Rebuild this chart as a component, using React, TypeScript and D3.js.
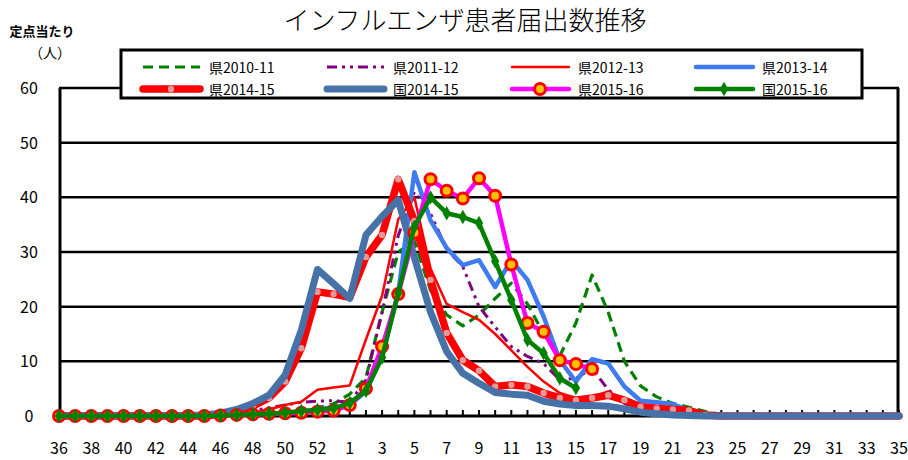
import React from "react";
import * as d3 from "d3";

// weeks 36..53, 1..35
const weeks = [...d3.range(36, 54), ...d3.range(1, 36)];
const yTicks = [0, 10, 20, 30, 40, 50, 60];

const ken1011 = [
  0, 0, 0, 0, 0, 0, 0, 0, 0, 0, 0.1, 0.1, 0.2, 0.3, 0.4, 0.5, 1.5, 2.2, 4.0, 7.0,
  19.0, 30.0, 32.0, 23.0, 18.5, 16.5, 18.5, 21.5, 24.3, 20.5, 15.0, 11.0, 17.0,
  25.8, 19.0, 10.0, 5.5, 3.5, 2.3, 1.6, 0.8, 0.3, 0.1, 0.1, 0, 0, 0, 0, 0, 0, 0, 0, 0,
];
const ken1112 = [
  0, 0, 0, 0, 0, 0, 0, 0, 0, 0, 0.3, 0.6, 1.0, 1.5, 2.0, 2.5, 2.7, 2.8, 2.5, 6.6,
  19.0, 33.0, 41.0, 37.0, 30.5, 27.3, 20.0, 16.3, 12.7, 10.9, 9.6, 6.6, 6.9, 8.7,
  4.8, 2.3, 1.0, 0.5, 0.2, 0.1, 0, 0, 0, 0, 0, 0, 0, 0, 0, 0, 0, 0, 0,
];
const ken1213 = [
  0, 0, 0, 0, 0, 0, 0, 0, 0, 0, 0.1, 0.3, 0.6, 1.2, 2.0, 2.6, 4.8, 5.2, 5.6, 14.0,
  22.0, 36.0, 40.0, 27.0, 20.5, 19.0, 17.6, 15.0, 12.0, 9.0, 6.3, 4.2, 3.3, 3.5,
  4.5, 2.8, 1.6, 1.0, 0.5, 0.2, 0, 0, 0, 0, 0, 0, 0, 0, 0, 0, 0, 0, 0,
];
const ken1314 = [
  0.1, 0.1, 0.1, 0.1, 0.1, 0.1, 0.1, 0.1, 0.1, 0.1, 0.2, 0.2, 0.3, 0.4, 0.5, 0.8,
  1.2, 1.6, 2.0, 4.5, 11.0, 22.5, 44.6, 35.8, 30.7, 27.6, 28.5, 23.6, 28.5, 24.9,
  18.2, 10.2, 6.3, 10.4, 9.6, 5.4, 2.8, 2.5, 2.2, 1.0, 0.2, 0.1, 0, 0, 0, 0, 0, 0,
  0, 0, 0, 0, 0,
];
const ken1415 = [
  0, 0, 0, 0, 0, 0, 0, 0, 0, 0, 0.3, 0.8, 1.8, 3.3, 6.3, 12.4, 22.7, 22.3, 21.7,
  29.1, 33.1, 43.3, 35.7, 24.9, 15.2, 10.2, 8.3, 5.4, 5.7, 5.4, 4.2, 3.3, 2.9, 3.3,
  3.8, 2.9, 1.7, 1.4, 1.2, 1.0, 0.2, 0, 0, 0, 0, 0, 0, 0, 0, 0, 0, 0, 0,
];
const kuni1415 = [
  0.1, 0.1, 0.1, 0.1, 0.1, 0.1, 0.1, 0.1, 0.1, 0.2, 0.5, 1.2, 2.3, 3.8, 7.5, 15.7,
  26.8, 24.2, 21.5, 33.1, 36.5, 39.5, 29.0, 19.0, 11.8, 7.8, 6.0, 4.3, 4.0, 3.8,
  2.7, 2.2, 1.9, 1.9, 1.8, 1.3, 0.7, 0.4, 0.2, 0.1, 0, 0, 0, 0, 0, 0, 0, 0, 0, 0,
  0, 0, 0,
];
const ken1516 = [
  0, 0, 0, 0, 0, 0, 0, 0, 0, 0, 0.1, 0.2, 0.3, 0.4, 0.5, 0.6, 0.8, 1.0, 2.0, 5.0,
  12.7, 22.3, 33.5, 43.3, 41.2, 39.8, 43.5, 40.3, 27.7, 17.0, 15.4, 10.2, 9.5, 8.6,
];
const kuni1516 = [
  0, 0, 0, 0, 0, 0, 0, 0, 0, 0, 0.1, 0.2, 0.3, 0.4, 0.6, 0.9, 1.1, 1.4, 2.4, 4.6,
  10.7, 22.5, 34.6, 40.0, 37.1, 36.4, 35.3, 28.3, 21.2, 13.9, 11.5, 6.9, 5.1,
];

type Marker = "none" | "dot" | "ring" | "diamond";
interface Series {
  name: string;
  values: number[];
  color: string;
  width: number;
  dash?: string;
  marker: Marker;
}

const series: Series[] = [
  { name: "県2010-11", values: ken1011, color: "#008000", width: 3.2, dash: "10,6", marker: "none" },
  { name: "県2011-12", values: ken1112, color: "#800080", width: 3, dash: "10,5,3,5,3,5", marker: "none" },
  { name: "県2012-13", values: ken1213, color: "#ff0000", width: 2.5, marker: "none" },
  { name: "県2013-14", values: ken1314, color: "#3f7af0", width: 4.5, marker: "none" },
  { name: "県2014-15", values: ken1415, color: "#ff0000", width: 7.5, marker: "dot" },
  { name: "国2014-15", values: kuni1415, color: "#4672a8", width: 7, marker: "none" },
  { name: "県2015-16", values: ken1516, color: "#ff00ff", width: 4.5, marker: "ring" },
  { name: "国2015-16", values: kuni1516, color: "#008000", width: 4.5, marker: "diamond" },
];

const FONT = "'Noto Sans CJK JP', sans-serif";

const MarkerShape = (props: { type: Marker; x: number; y: number }) => {
  const { type, x, y } = props;
  if (type === "dot") {
    return <circle cx={x} cy={y} r={3.2} fill="#e09a9a" />;
  }
  if (type === "ring") {
    return <circle cx={x} cy={y} r={5.5} fill="#ffc000" stroke="#ff0000" strokeWidth={3} />;
  }
  if (type === "diamond") {
    const d = d3.symbol(d3.symbolDiamond, 60)();
    return <path d={d || ""} transform={`translate(${x},${y})`} fill="#008000" />;
  }
  return null;
};

export default function App() {
  const width = 908;
  const height = 460;

  const x = d3
    .scalePoint<string>()
    .domain(weeks.map(String))
    .range([59, 899]);
  const y = d3.scaleLinear().domain([0, 60]).range([416, 88]);

  const line = d3
    .line<number>()
    .x((d, i) => x(String(weeks[i])) as number)
    .y((d) => y(d));

  const legendCols = [143, 327, 512, 696];
  const legendRows = [67, 89];

  return (
    <svg
      width={width}
      height={height}
      style={{ position: "absolute", left: 0, top: 0, background: "#fff" }}
      fontFamily={FONT}
    >
      <rect width={width} height={height} fill="#fff" />
      {/* title */}
      <text x={465} y={30} textAnchor="middle" fontSize={26} fontWeight={300} fill="#000">
        インフルエンザ患者届出数推移
      </text>
      <text x={42} y={36} textAnchor="middle" fontSize={13} fontWeight="bold" fill="#000">
        定点当たり
      </text>
      <text x={50} y={58} textAnchor="middle" fontSize={14} fill="#000">
        （人）
      </text>

      {/* grid */}
      {yTicks.map((t) => (
        <g key={t}>
          <line x1={59} x2={899} y1={y(t)} y2={y(t)} stroke="#000" strokeWidth={t === 0 ? 3 : 2.5} />
          <text x={29} y={y(t) + 6} textAnchor="middle" fontSize={16} fill="#000">
            {t}
          </text>
        </g>
      ))}
      <line x1={60} x2={60} y1={y(60)} y2={y(0)} stroke="#000" strokeWidth={3} />
      <line x1={898} x2={898} y1={y(60)} y2={y(0)} stroke="#000" strokeWidth={3} />

      {/* x ticks */}
      {weeks.map((w, i) => (
        <g key={i}>
          <line
            x1={x(String(w))}
            x2={x(String(w))}
            y1={y(0)}
            y2={y(0) - 6}
            stroke="#000"
            strokeWidth={2}
          />
          {i % 2 === 0 && (
            <text x={x(String(w))} y={454} textAnchor="middle" fontSize={16} fill="#000">
              {w}
            </text>
          )}
        </g>
      ))}

      {/* series */}
      {series.map((s) => (
        <g key={s.name}>
          <path
            d={line(s.values) || ""}
            fill="none"
            stroke={s.color}
            strokeWidth={s.width}
            strokeDasharray={s.dash}
            strokeLinejoin="round"
            strokeLinecap={s.dash ? "butt" : "round"}
          />
          {s.marker !== "none" &&
            s.values.map((v, i) => (
              <MarkerShape key={i} type={s.marker} x={x(String(weeks[i])) as number} y={y(v)} />
            ))}
        </g>
      ))}

      {/* legend */}
      <rect x={121} y={50} width={741} height={48} fill="#fff" stroke="#000" strokeWidth={3} />
      {series.map((s, k) => {
        const lx = legendCols[k % 4];
        const ly = legendRows[Math.floor(k / 4)];
        return (
          <g key={s.name}>
            <line
              x1={lx}
              x2={lx + 57}
              y1={ly}
              y2={ly}
              stroke={s.color}
              strokeWidth={s.width}
              strokeDasharray={s.dash}
              strokeLinecap={s.dash ? "butt" : "round"}
            />
            {s.marker !== "none" && <MarkerShape type={s.marker} x={lx + 28} y={ly} />}
            <text x={lx + 66} y={ly + 6} fontSize={14} fill="#000">
              {s.name}
            </text>
          </g>
        );
      })}
    </svg>
  );
}
